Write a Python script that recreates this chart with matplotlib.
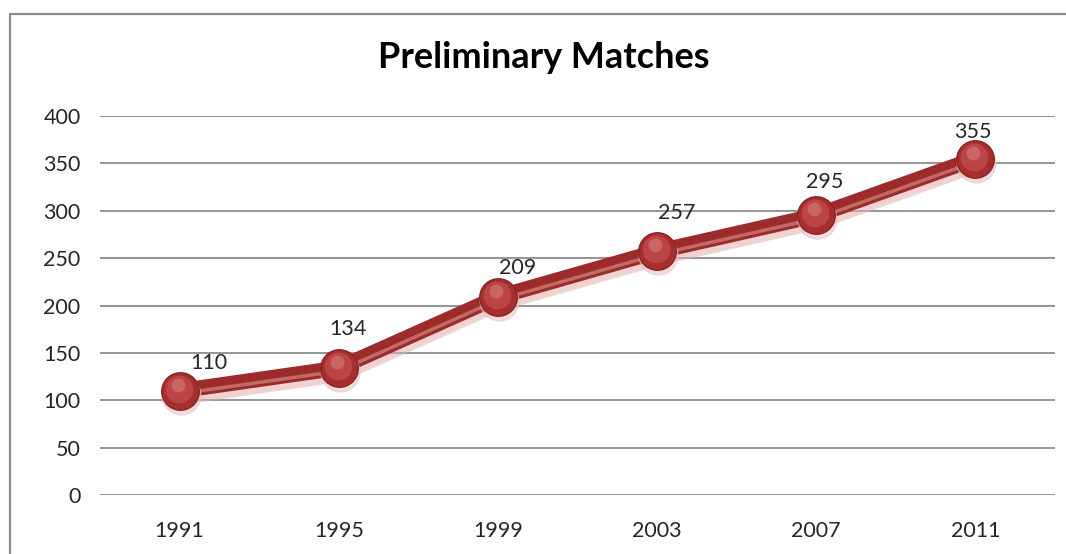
import matplotlib
matplotlib.use("Agg")
import matplotlib.pyplot as plt
from matplotlib.lines import Line2D
import matplotlib.transforms as mtrans

years = ["1991", "1995", "1999", "2003", "2007", "2011"]
matches = [110, 134, 209, 257, 295, 355]
y_ticks = [0, 50, 100, 150, 200, 250, 300, 350, 400]
title = "Preliminary Matches"

# label offsets in points (dx, dy)
label_offsets = [(21, 20), (7, 28), (14, 21), (14, 28), (6, 24), (-2, 19)]

W, H = 1066, 554
fig = plt.figure(figsize=(W / 100, H / 100), dpi=100)
fig.patch.set_facecolor("white")

# chart-area border (top and left only visible), drawn in pixel coordinates
border = Line2D([9.5, 9.5, W + 5], [-5, H - 13.5, H - 13.5], transform=mtrans.IdentityTransform(),
                color="#8c8c8c", linewidth=1.6, solid_capstyle="butt", solid_joinstyle="miter")
fig.add_artist(border)

ax = fig.add_axes([100 / W, (H - 495) / H, (1055 - 100) / W, (495 - 116) / H])
ax.set_facecolor("none")
x = list(range(len(years)))
ax.set_xlim(-0.5, len(years) - 0.5)
ax.set_ylim(0, 400)
ax.set_yticks(y_ticks)
ax.set_xticks(x)
ax.set_xticklabels(years)
for s in ax.spines.values():
    s.set_visible(False)
ax.grid(axis="y", color="#8c8c8c", linewidth=1.3)
ax.set_axisbelow(True)
ax.tick_params(length=0, labelsize=15.5, labelcolor="#262626")
ax.tick_params(axis="y", pad=14)
ax.tick_params(axis="x", pad=19)
for lab in ax.get_xticklabels() + ax.get_yticklabels():
    lab.set_fontfamily("Lato")


def shift(dx, dy):
    return ax.transData + mtrans.ScaledTranslation(dx / 100, dy / 100, fig.dpi_scale_trans)


# shadow
ax.plot(x, matches, color="#e2b0b0", linewidth=13, alpha=0.55, solid_capstyle="round",
        zorder=2, transform=shift(1, -5))
# main line
ax.plot(x, matches, color="#9e2b2b", linewidth=11, solid_capstyle="round", zorder=3)
ax.plot(x, matches, color="#c26a66", linewidth=2.5, solid_capstyle="round", zorder=4,
        transform=shift(0, -3))
# markers with shading
ax.plot(x, matches, linestyle="none", marker="o", markersize=28, color="#e8c0c0", alpha=0.55, zorder=5,
        transform=shift(1, -4))
ax.plot(x, matches, linestyle="none", marker="o", markersize=27, markerfacecolor="#a52f2f",
        markeredgecolor="#8c2323", markeredgewidth=1, zorder=6)
ax.plot(x, matches, linestyle="none", marker="o", markersize=20, markerfacecolor="#bb4545",
        markeredgewidth=0, zorder=7, transform=shift(-1, 2))
ax.plot(x, matches, linestyle="none", marker="o", markersize=10, markerfacecolor="#cf6e6e",
        markeredgewidth=0, alpha=0.8, zorder=8, transform=shift(-2, 6))

for xi, v, (dx, dy) in zip(x, matches, label_offsets):
    ax.annotate(str(v), (xi, v), xytext=(dx, dy), textcoords="offset points",
                ha="center", va="center", fontsize=15.5, color="#262626", fontfamily="Lato", zorder=10)

fig.text(544 / W, 1 - 58 / H, title, ha="center", va="center", fontsize=26,
         fontweight="bold", fontfamily="Lato", color="#000000")

fig.savefig("out.png", dpi=100)
